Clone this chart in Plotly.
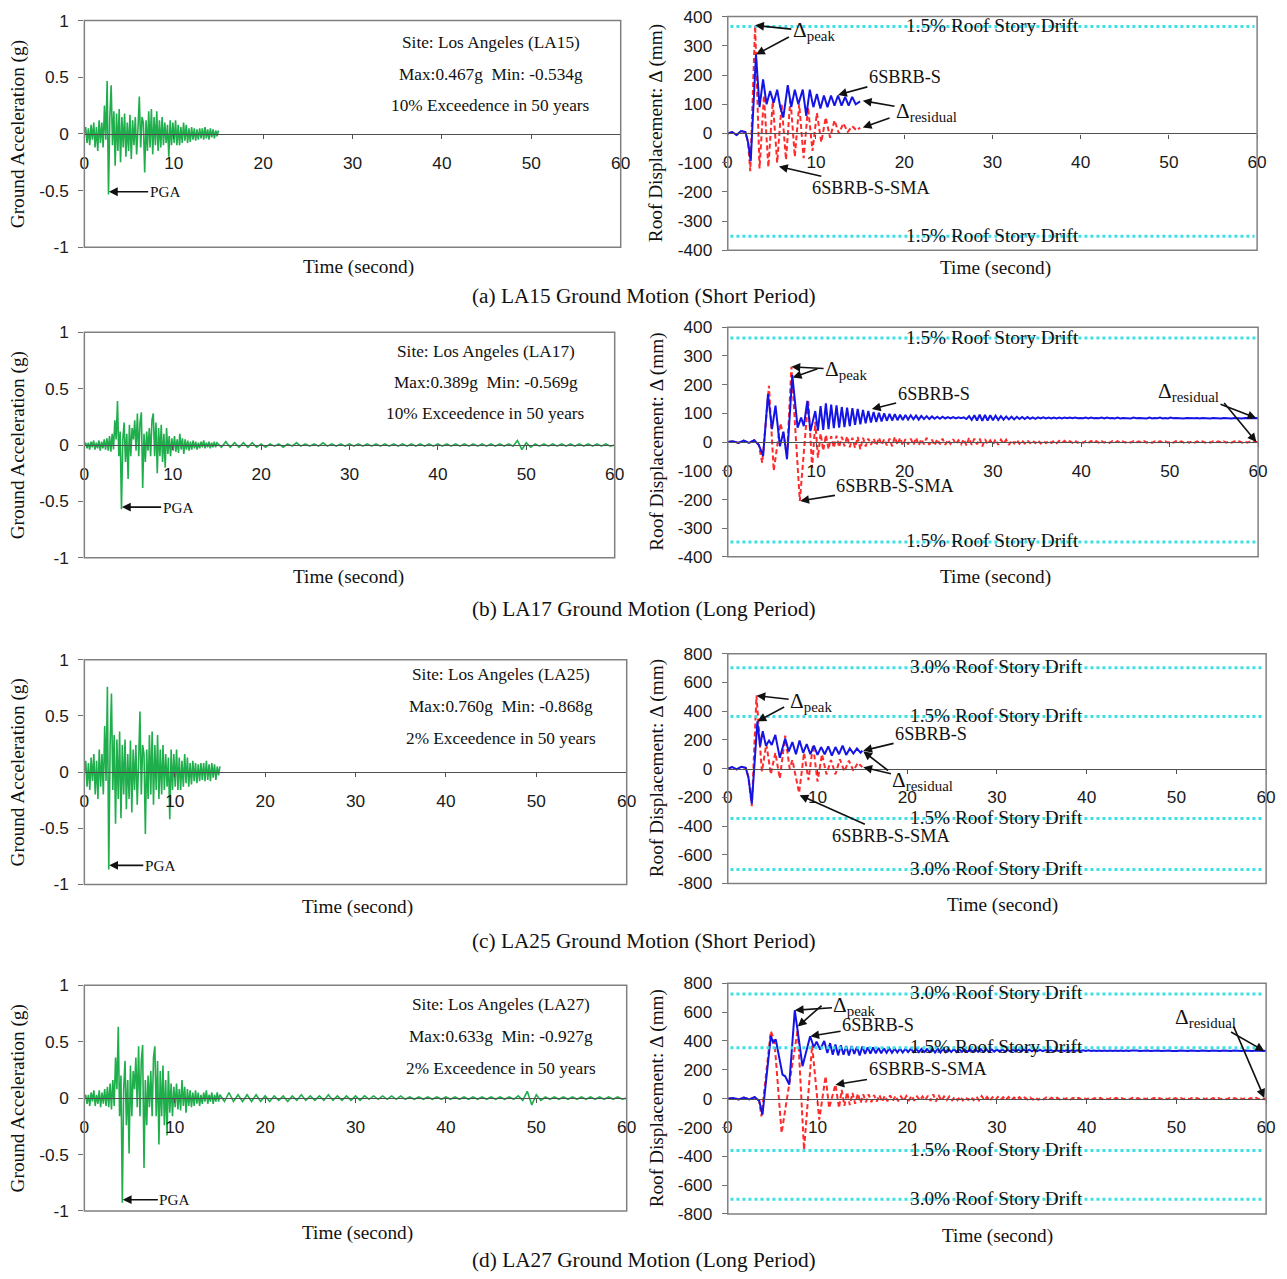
import plotly.graph_objects as go

# Figure size; positions below are given in output-image pixels and converted with the
# measured page offset / scale of the viewer (8 px body margin, ~1.3 % shrink).
W, H = 1287, 1279
OFF, SX, SY = 8, 0.9877, 0.9857
DX, DY = 3.2, -1.5   # measured residual shift of the rendering

# ----------------------------- DATA -----------------------------
# Ground acceleration (g), sampled every ACC_DT s from t = 0
ACC_DT = 0.15
LA15_acc = [0.00, 0.06, -0.08, 0.05, -0.10, 0.08, -0.05, 0.10, -0.12, 0.06,
            -0.15, 0.12, -0.08, 0.10, -0.12, 0.25, -0.05, 0.467, -0.534, 0.15,
            0.43, -0.10, 0.20, -0.28, 0.18, -0.15, 0.22, -0.25, 0.15, -0.12,
            0.18, -0.20, 0.10, -0.15, 0.17, -0.22, 0.12, -0.10, 0.15, -0.18,
            0.05, 0.33, -0.12, 0.15, 0.10, -0.34, 0.12, -0.15, 0.20, -0.12,
            0.22, -0.18, 0.15, -0.10, 0.20, -0.15, 0.12, -0.12, 0.15, -0.10,
            0.10, -0.08, 0.08, -0.20, 0.12, -0.10, 0.10, -0.08, 0.12, -0.10,
            0.08, -0.10, 0.06, -0.08, 0.10, -0.06, 0.08, -0.08, 0.05, -0.07,
            0.06, -0.05, 0.05, -0.06, 0.04, -0.05, 0.05, -0.04, 0.05, -0.05,
            0.06, -0.04, 0.04, -0.05, 0.05, -0.03, 0.04, -0.04, 0.03, -0.02,
            0.03]
LA25_acc = [0.00, 0.10, -0.13, 0.08, -0.16, 0.13, -0.08, 0.16, -0.20, 0.10,
            -0.24, 0.20, -0.13, 0.16, -0.20, 0.41, -0.08, 0.760, -0.868, 0.24,
            0.70, -0.16, 0.33, -0.46, 0.29, -0.24, 0.36, -0.41, 0.24, -0.20,
            0.29, -0.33, 0.16, -0.24, 0.28, -0.36, 0.20, -0.16, 0.24, -0.29,
            0.08, 0.54, -0.20, 0.24, 0.16, -0.55, 0.20, -0.24, 0.33, -0.20,
            0.36, -0.29, 0.24, -0.16, 0.33, -0.24, 0.20, -0.20, 0.24, -0.16,
            0.16, -0.13, 0.13, -0.42, 0.20, -0.16, 0.16, -0.13, 0.20, -0.16,
            0.13, -0.16, 0.10, -0.13, 0.16, -0.10, 0.13, -0.13, 0.08, -0.11,
            0.10, -0.08, 0.08, -0.10, 0.07, -0.08, 0.08, -0.07, 0.08, -0.08,
            0.10, -0.07, 0.07, -0.08, 0.08, -0.05, 0.07, -0.07, 0.05, -0.03,
            0.05]
LA17_acc = [0.00, 0.02, -0.03, 0.02, -0.04, 0.03, -0.02, 0.04, -0.04, 0.02,
            -0.03, 0.04, -0.05, 0.03, -0.03, 0.05, -0.04, 0.06, -0.05, 0.08,
            -0.06, 0.10, -0.04, 0.22, 0.05, 0.389, -0.10, 0.12, -0.569, 0.05,
            0.20, -0.15, 0.10, -0.30, 0.18, -0.10, 0.15, 0.05, 0.22, -0.05,
            0.28, -0.10, 0.20, 0.29, -0.38, 0.10, -0.15, 0.12, -0.05, 0.15,
            -0.10, 0.22, 0.28, -0.10, 0.20, -0.25, 0.15, -0.10, 0.18, -0.15,
            0.10, -0.20, 0.15, -0.08, 0.08, -0.10, 0.06, -0.05, 0.08, -0.06,
            0.05, -0.07, 0.10, -0.04, 0.06, -0.08, 0.05, -0.04, 0.04, -0.05,
            0.03, -0.04, 0.04, -0.03, 0.03, -0.04, 0.02, -0.03, 0.03, -0.02,
            0.04, -0.03, 0.02, -0.02, 0.03, -0.03, 0.02, -0.02, 0.03, -0.02,
            0.02]
LA27_acc = [0.00, 0.03, -0.05, 0.03, -0.07, 0.05, -0.03, 0.07, -0.07, 0.03,
            -0.05, 0.07, -0.08, 0.05, -0.05, 0.08, -0.07, 0.10, -0.08, 0.13,
            -0.10, 0.16, -0.07, 0.36, 0.08, 0.633, -0.16, 0.20, -0.927, 0.08,
            0.33, -0.24, 0.16, -0.49, 0.29, -0.16, 0.24, 0.08, 0.36, -0.08,
            0.46, -0.16, 0.33, 0.47, -0.62, 0.16, -0.24, 0.20, -0.08, 0.24,
            -0.16, 0.36, 0.46, -0.16, 0.33, -0.41, 0.24, -0.16, 0.29, -0.24,
            0.16, -0.33, 0.24, -0.13, 0.13, -0.16, 0.10, -0.08, 0.13, -0.10,
            0.08, -0.11, 0.16, -0.07, 0.10, -0.13, 0.08, -0.07, 0.07, -0.08,
            0.05, -0.07, 0.07, -0.05, 0.05, -0.07, 0.03, -0.05, 0.05, -0.03,
            0.07, -0.05, 0.03, -0.03, 0.05, -0.05, 0.03, -0.03, 0.05, -0.03,
            0.03]
# long-record tails (g), sampled every ACC_TAIL_DT s from ACC_TAIL_T0
ACC_TAIL_T0, ACC_TAIL_DT = 15.5, 0.5
LA17_tail = [-0.02, 0.03, -0.02, 0.02, -0.02, 0.02, -0.02, 0.02, -0.02, 0.01,
             -0.02, 0.01, -0.01, 0.01, -0.02, 0.01, -0.01, 0.02, -0.01, 0.01,
             -0.01, 0.01, -0.01, 0.02, -0.01, 0.01, -0.01, 0.01, -0.01, 0.01,
             -0.01, 0.01, -0.01, 0.01, -0.01, 0.01, -0.01, 0.01, -0.01, 0.01,
             -0.01, 0.01, -0.01, 0.01, -0.01, 0.01, -0.01, 0.01, -0.01, 0.01,
             -0.01, 0.01, -0.01, 0.01, -0.01, 0.01, -0.01, 0.01, -0.01, 0.01,
             -0.01, 0.01, -0.01, 0.01, -0.01, 0.01, -0.01, 0.04, -0.04, 0.02,
             -0.02, 0.01, -0.01, 0.01, -0.01, 0.01, -0.01, 0.01, -0.01, 0.01,
             -0.01, 0.01, -0.01, 0.01, -0.01, 0.01, -0.01, 0.01, -0.01, 0.00]
LA27_tail = [-0.03, 0.05, -0.03, 0.03, -0.03, 0.03, -0.03, 0.03, -0.03, 0.02,
             -0.03, 0.02, -0.02, 0.02, -0.03, 0.02, -0.02, 0.03, -0.02, 0.02,
             -0.02, 0.02, -0.02, 0.03, -0.02, 0.02, -0.02, 0.02, -0.02, 0.02,
             -0.02, 0.02, -0.01, 0.02, -0.01, 0.02, -0.01, 0.02, -0.01, 0.02,
             -0.01, 0.01, -0.01, 0.01, -0.01, 0.01, -0.01, 0.01, -0.01, 0.01,
             -0.01, 0.01, -0.01, 0.01, -0.01, 0.01, -0.01, 0.01, -0.01, 0.01,
             -0.01, 0.01, -0.01, 0.01, -0.01, 0.02, -0.02, 0.06, -0.06, 0.03,
             -0.02, 0.01, -0.01, 0.01, -0.01, 0.01, -0.01, 0.01, -0.01, 0.01,
             -0.01, 0.01, -0.01, 0.01, -0.01, 0.01, -0.01, 0.01, -0.01, 0.00]

# Roof displacement (mm): read turning points (t, value)
LA15_S_t = [0, 0.5, 1.0, 1.5, 2.0, 2.3, 2.6, 3.2, 3.6, 4.0, 4.4, 4.8, 5.2, 5.6, 5.95, 6.3, 6.8, 7.2, 7.6,
            8.0, 8.5, 8.9, 9.3, 9.7, 10.1, 10.5, 10.9, 11.3, 11.7, 12.1, 12.5, 12.9, 13.3, 13.7, 14.1, 14.5, 15.0]
LA15_S_v = [0, 5, -5, 8, 5, -30, -95, 270, 90, 185, 100, 145, 105, 150, 90, 55, 165, 90, 150,
            100, 150, 60, 150, 90, 135, 85, 130, 90, 130, 95, 130, 95, 125, 95, 125, 100, 110]
LA15_SMA_t = [0, 0.5, 1.0, 1.5, 2.0, 2.3, 2.55, 3.1, 3.6, 4.1, 4.6, 5.1, 5.6, 6.1, 6.6, 7.1, 7.6, 8.1,
              8.6, 9.1, 9.6, 10.1, 10.6, 11.1, 11.6, 12.1, 12.6, 13.1, 13.6, 14.1, 14.6, 15.0]
LA15_SMA_v = [0, 5, -5, 8, 5, -30, -129, 370, -120, 130, -115, 110, -100, 100, -90, 120, -80, 100,
              -85, 90, -60, 70, -30, 55, -15, 45, 0, 35, 5, 25, 10, 20]

LA25_S_t = [0, 0.5, 1.0, 1.5, 2.0, 2.3, 2.68, 3.3, 3.6, 3.9, 4.25, 4.6, 4.9, 5.3, 5.8, 6.4, 6.8, 7.2, 7.6,
            8.0, 8.4, 8.8, 9.2, 9.6, 10.0, 10.4, 10.8, 11.2, 11.6, 12.0, 12.4, 12.8, 13.2, 13.6, 14.0, 14.4, 14.8, 15.0]
LA25_S_v = [0, 10, -5, 12, 5, -60, -245, 329, 155, 260, 160, 195, 165, 235, 75, 210, 120, 185, 100,
            195, 110, 170, 100, 160, 95, 150, 100, 155, 90, 150, 100, 160, 95, 140, 105, 140, 110, 125]
LA25_SMA_t = [0, 0.5, 1.0, 1.5, 2.0, 2.3, 2.68, 3.2, 3.8, 4.3, 4.8, 5.3, 5.8, 6.4, 6.9, 7.2, 7.95, 8.5,
              9.0, 9.5, 10.0, 10.5, 11.0, 11.5, 12.0, 12.5, 13.0, 13.5, 14.0, 14.5, 15.0]
LA25_SMA_v = [0, 10, -5, 12, 5, -60, -262, 508, -20, 170, -40, 110, -70, 230, 0, 60, -170, 110,
              -80, 165, -90, 100, -40, 60, -40, 65, -20, 55, -15, 40, 10]

# long records: turning points, then a tail sampled every RESP_TAIL_DT s
RESP_TAIL_DT = 0.3
LA17_S_t = [0, 0.6, 1.2, 1.8, 2.4, 3.0, 3.5, 4.0, 4.55, 5.0, 5.4, 5.9, 6.3, 6.7, 7.3, 7.9, 8.3, 8.6, 9.0, 9.35, 9.9]
LA17_S_v = [0, 3, -3, 5, -3, 6, -10, -48, 167, 45, 127, -15, 36, -60, 233, 50, 85, 55, 143, 38, 108]
LA17_S_tail_t0 = 10.2
LA17_S_tail = [40, 125, 42, 135, 45, 130, 48, 128, 50, 122, 52,
               120, 55, 118, 60, 115, 62, 112, 65, 108, 68,
               105, 70, 102, 72, 100, 74, 98, 75, 97, 76,
               95, 77, 94, 78, 93, 79, 92, 78, 91, 80,
               90, 80, 89, 81, 88, 81, 88, 82, 87, 82,
               87, 82, 86, 83, 86, 80, 90, 77, 93, 75,
               95, 74, 94, 75, 93, 76, 92, 77, 90, 78,
               89, 79, 88, 79, 88, 80, 87, 80, 87, 81,
               86, 81, 86, 82, 86, 82, 85, 82, 85, 82,
               85, 82, 85, 83, 85, 83, 85, 83, 84, 83,
               85, 82, 85, 83, 84, 83, 85, 82, 85, 83,
               84, 82, 85, 82, 84, 83, 84, 82, 85, 83,
               84, 83, 84, 82, 85, 82, 84, 83, 85, 82,
               84, 82, 85, 83, 84, 83, 84, 82, 84, 83,
               84, 83, 84, 82, 84, 83, 84, 82, 84, 83,
               84, 82, 84, 83, 84, 82, 84, 83, 84, 82,
               84, 83, 84, 83, 84, 83]
LA17_SMA_t = [0, 0.6, 1.2, 1.8, 2.4, 3.0, 3.5, 3.9, 4.66, 5.2, 5.95, 6.35, 6.7, 7.2, 8.15, 9.1, 9.55, 9.9]
LA17_SMA_v = [0, 3, -3, 5, -3, 6, -10, -72, 196, -100, 65, 20, -50, 262, -205, 148, -90, 70]
LA17_SMA_tail_t0 = 10.2
LA17_SMA_tail = [-55, 30, -30, 25, -25, 20, -20, 22, -18, 18, -15,
                 20, -18, 15, -20, 18, -25, 15, -15, 12, -10,
                 12, -12, 15, -10, 10, -12, 12, -15, 18, -10,
                 15, -12, 10, -8, 12, -10, 15, -12, 10, -8,
                 15, -10, 8, -12, 10, -8, 12, -10, 8, -6,
                 10, -8, 6, -8, 10, -12, 15, -10, 12, -8,
                 12, -15, 10, -8, 6, -8, 10, -10, 8, -6,
                 8, -10, 6, -5, 8, -6, 5, -5, 6, -4,
                 5, -4, 6, -5, 4, -4, 5, -3, 4, -4,
                 4, -3, 4, -4, 3, -3, 4, -3, 3, -3,
                 3, -3, 4, -3, 3, -3, 3, -2, 3, -3,
                 3, -2, 3, -3, 2, -2, 3, -2, 3, -2,
                 2, -2, 3, -2, 2, -3, 2, -2, 3, -2,
                 2, -2, 2, -2, 3, -2, 2, -2, 2, -2,
                 2, -2, 2, -2, 2, -2, 2, -2, 2, -2,
                 2, -2, 2, -2, 2, -2, 2, -2, 2, -2,
                 2, -2, 2, -1, 1, -1]

LA27_S_t = [0, 0.6, 1.2, 1.8, 2.4, 3.0, 3.5, 3.87, 4.8, 5.05, 5.35, 6.1, 6.4, 6.85, 7.47, 8.33, 9.18,
            9.6, 9.9, 10.3, 10.75, 11.1]
LA27_S_v = [0, 5, -5, 8, -5, 10, -15, -111, 435, 390, 410, 167, 155, 97, 613, 225, 433,
            355, 395, 340, 400, 317]
LA27_S_tail_t0 = 11.4
LA27_S_tail = [385, 305, 375, 300, 370, 305, 365, 300, 365, 310,
               360, 300, 362, 310, 355, 312, 355, 315, 352, 315,
               350, 318, 350, 318, 348, 320, 348, 320, 346, 322,
               346, 322, 345, 322, 345, 323, 344, 323, 346, 320,
               348, 320, 346, 322, 345, 323, 344, 324, 344, 324,
               343, 324, 343, 325, 342, 325, 343, 324, 344, 324,
               342, 326, 341, 326, 341, 327, 340, 327, 340, 327,
               340, 328, 339, 328, 339, 328, 339, 329, 338, 329,
               337, 329, 337, 329, 336, 330, 336, 330, 336, 330,
               335, 330, 335, 330, 335, 331, 335, 331, 334, 331,
               334, 331, 334, 331, 334, 331, 334, 331, 334, 331,
               334, 331, 334, 331, 333, 331, 333, 331, 333, 331,
               333, 331, 333, 331, 333, 330, 334, 330, 333, 331,
               333, 331, 333, 331, 333, 331, 333, 331, 333, 331,
               333, 331, 333, 331, 333, 331, 333, 331, 333, 331,
               333, 331, 333, 331, 333, 331, 333, 331, 333, 331,
               332, 331, 332]
LA27_SMA_t = [0, 0.6, 1.2, 1.8, 2.4, 3.0, 3.5, 3.75, 4.8, 5.2, 6.0, 7.8, 8.5, 9.4, 10.2, 10.9, 11.3, 12.0, 12.4]
LA27_SMA_v = [0, 5, -5, 8, -5, 10, -15, -123, 468, 400, -238, 480, -354, 370, -146, 155, -65, 97, -65]
LA27_SMA_tail_t0 = 12.7
LA27_SMA_tail = [60, -50, 45, -45, 40, -35, 35, -30, 30, -25,
                 30, -25, 25, -20, 25, -22, 20, -18, 22, -15,
                 20, -18, 15, -15, 18, -12, 20, -15, 15, -12,
                 15, -12, 20, -15, 30, -20, 25, -15, 15, -10,
                 15, -12, 12, -10, 15, -12, 10, -8, 12, -10,
                 15, -12, 18, -10, 12, -15, 10, -10, 12, -8,
                 10, -8, 12, -10, 8, -6, 10, -8, 8, -6,
                 8, -6, 10, -8, 6, -5, 8, -6, 6, -5,
                 6, -5, 5, -4, 6, -5, 5, -4, 5, -4,
                 5, -4, 5, -4, 4, -3, 5, -4, 4, -3,
                 4, -3, 5, -4, 4, -3, 4, -3, 5, -3,
                 4, -3, 4, -3, 4, -3, 5, -4, 4, -3,
                 5, -4, 4, -3, 4, -3, 4, -3, 4, -3,
                 4, -3, 4, -3, 4, -3, 4, -3, 4, -3,
                 4, -3, 4, -3, 4, -3, 4, -3, 4, -3,
                 4, -3, 4, -3, 5, -3, 5, -3, 5, -3]

# drift limit lines (mm) and their labels
DRIFT_A = [366, -352]
DRIFT_B = [362, -348]
DRIFT_C = [703, 362, -348, -703]
DRIFT_D = [726, 353, -360, -698]
DRIFT_LABELS_2 = ["1.5% Roof Story Drift", "1.5% Roof Story Drift"]
DRIFT_LABELS_4 = ["3.0% Roof Story Drift", "1.5% Roof Story Drift",
                  "1.5% Roof Story Drift", "3.0% Roof Story Drift"]

X_TICKS = [0, 10, 20, 30, 40, 50, 60]
ACC_TICKS = [-1, -0.5, 0, 0.5, 1]
ACC_TICKTEXT = ["-1", "-0.5", "0", "0.5", "1"]
DISP_TICKS_400 = [-400, -300, -200, -100, 0, 100, 200, 300, 400]
DISP_TICKS_800 = [-800, -600, -400, -200, 0, 200, 400, 600, 800]

INFO = {
    1: ["Site: Los Angeles (LA15)", "Max:0.467g\u00a0 Min: -0.534g", "10% Exceedence in 50 years"],
    3: ["Site: Los Angeles (LA17)", "Max:0.389g\u00a0 Min: -0.569g", "10% Exceedence in 50 years"],
    5: ["Site: Los Angeles (LA25)", "Max:0.760g\u00a0 Min: -0.868g", "2% Exceedence in 50 years"],
    7: ["Site: Los Angeles (LA27)", "Max:0.633g\u00a0 Min: -0.927g", "2% Exceedence in 50 years"],
}
CAPTIONS = ["(a) LA15 Ground Motion (Short Period)", "(b) LA17 Ground Motion (Long Period)",
            "(c) LA25 Ground Motion (Short Period)", "(d) LA27 Ground Motion (Long Period)"]

# ----------------------------- STYLE / LAYOUT -----------------------------
SANS = "Liberation Sans, Arial, sans-serif"
SERIF = "Liberation Serif, Times New Roman, serif"
GREEN, BLUE, RED, CYAN = "#1fae4c", "#1414e6", "#ff2a2a", "#3ee0e6"


def fs(size):
    return round(size / SY, 2)


TICKFONT = dict(family=SANS, size=fs(17), color="#1a1a1a")

# panel geometry in output pixels: left, right, top, bottom
PANELS = [
    dict(x0=84, x1=620, yt=20, yb=247, kind="acc"),
    dict(x0=727, x1=1256, yt=16, yb=250, kind="disp", lim=400),
    dict(x0=84, x1=614, yt=332, yb=558, kind="acc"),
    dict(x0=727, x1=1257, yt=327, yb=557, kind="disp", lim=400),
    dict(x0=84, x1=626, yt=660, yb=885, kind="acc"),
    dict(x0=727, x1=1265, yt=654, yb=884, kind="disp", lim=800),
    dict(x0=84, x1=626, yt=986, yb=1212, kind="acc"),
    dict(x0=727, x1=1265, yt=984, yb=1215, kind="disp", lim=800),
]
TIME_TITLE_XY = [(358, 267), (995, 268), (348, 577), (995, 577), (357, 908), (1002, 906), (357, 1234), (997, 1237)]
CAPTION_Y = [296, 609, 942, 1261]
INFO_XY = {1: (490, [42, 74, 105]), 3: (485, [351, 382, 413]), 5: (500, [675, 707, 739]), 7: (500, [1005, 1037, 1069])}


def fx(px):
    return ((px + DX) / SX - OFF) / W


def fy(py):
    return 1 - ((py + DY) / SY - OFF) / H


def ax_ids(i):
    return ("x" if i == 1 else f"x{i}"), ("y" if i == 1 else f"y{i}")


def grid(t0, dt, n):
    return [round(t0 + k * dt, 4) for k in range(n)]


def paper_text(px, py, text, size, angle=0):
    return dict(xref="paper", yref="paper", x=fx(px), y=fy(py), xanchor="center", yanchor="middle",
                text=text, textangle=angle, showarrow=False,
                font=dict(family=SERIF, size=fs(size), color="#111"))


fig = go.Figure()
layout = dict(width=W, height=H, margin=dict(l=0, r=0, t=0, b=0), paper_bgcolor="white",
              plot_bgcolor="white", showlegend=False)
shapes, annotations = [], []

for i, p in enumerate(PANELS, start=1):
    xid, yid = ax_ids(i)
    xkey = "xaxis" if i == 1 else f"xaxis{i}"
    ykey = "yaxis" if i == 1 else f"yaxis{i}"
    zero_paper = fy((p["yt"] + p["yb"]) / 2)
    layout[xkey] = dict(domain=[fx(p["x0"]), fx(p["x1"])], range=[0, 60], anchor="free", position=zero_paper,
                        showline=True, linecolor="#505050", linewidth=1.2, ticks="outside", ticklen=4,
                        tickcolor="#505050", tickvals=X_TICKS, ticktext=[str(v) for v in X_TICKS],
                        tickfont=TICKFONT, ticklabelstandoff=9, showgrid=False, zeroline=False)
    if p["kind"] == "acc":
        yr, tv, tt = [-1, 1], ACC_TICKS, ACC_TICKTEXT
    else:
        yr = [-p["lim"], p["lim"]]
        tv = DISP_TICKS_400 if p["lim"] == 400 else DISP_TICKS_800
        tt = [str(v) for v in tv]
    layout[ykey] = dict(domain=[fy(p["yb"]), fy(p["yt"])], range=yr, anchor=xid, ticks="outside",
                        ticklen=5, tickcolor="#707070", tickvals=tv, ticktext=tt, tickfont=TICKFONT,
                        ticklabelstandoff=6, showgrid=False, zeroline=False, showline=False)
    shapes.append(dict(type="rect", xref=f"{xid} domain", yref=f"{yid} domain", x0=0, x1=1, y0=0, y1=1,
                       line=dict(color="#808080", width=1.5), fillcolor="rgba(0,0,0,0)", layer="above"))
    tx, ty = TIME_TITLE_XY[i - 1]
    annotations.append(paper_text(tx, ty, "Time (second)", 19))
    ytitle = "Ground Acceleration (g)" if p["kind"] == "acc" else "Roof Displacement: \u0394 (mm)"
    ytx = 18 if p["kind"] == "acc" else 656
    annotations.append(paper_text(ytx, (p["yt"] + p["yb"]) / 2, ytitle, 19, -90))

# --- acceleration traces
ACC_SERIES = {1: (LA15_acc, None), 3: (LA17_acc, LA17_tail), 5: (LA25_acc, None), 7: (LA27_acc, LA27_tail)}
for i, (acc, tail) in ACC_SERIES.items():
    xid, yid = ax_ids(i)
    t = grid(0, ACC_DT, len(acc))
    v = list(acc)
    if tail:
        t += grid(ACC_TAIL_T0, ACC_TAIL_DT, len(tail))
        v += tail
    fig.add_trace(go.Scatter(x=t, y=v, xaxis=xid, yaxis=yid, mode="lines",
                             line=dict(color=GREEN, width=1.6), hoverinfo="skip"))

# --- displacement traces
DISP_SERIES = {
    2: [(LA15_SMA_t, LA15_SMA_v, None, None, "SMA"), (LA15_S_t, LA15_S_v, None, None, "S")],
    4: [(LA17_SMA_t, LA17_SMA_v, LA17_SMA_tail_t0, LA17_SMA_tail, "SMA"),
        (LA17_S_t, LA17_S_v, LA17_S_tail_t0, LA17_S_tail, "S")],
    6: [(LA25_SMA_t, LA25_SMA_v, None, None, "SMA"), (LA25_S_t, LA25_S_v, None, None, "S")],
    8: [(LA27_SMA_t, LA27_SMA_v, LA27_SMA_tail_t0, LA27_SMA_tail, "SMA"),
        (LA27_S_t, LA27_S_v, LA27_S_tail_t0, LA27_S_tail, "S")],
}
for i, series in DISP_SERIES.items():
    xid, yid = ax_ids(i)
    for bt, bv, t0, tail, kind in series:
        t, v = list(bt), list(bv)
        if tail:
            t += grid(t0, RESP_TAIL_DT, len(tail))
            v += tail
        line = dict(color=BLUE, width=2) if kind == "S" else dict(color=RED, width=2, dash="5px,3px")
        fig.add_trace(go.Scatter(x=t, y=v, xaxis=xid, yaxis=yid, mode="lines", line=line, hoverinfo="skip"))

# --- drift lines + labels
DRIFTS = {2: (DRIFT_A, DRIFT_LABELS_2), 4: (DRIFT_B, DRIFT_LABELS_2),
          6: (DRIFT_C, DRIFT_LABELS_4), 8: (DRIFT_D, DRIFT_LABELS_4)}
for i, (vals, labels) in DRIFTS.items():
    xid, yid = ax_ids(i)
    for val, lab in zip(vals, labels):
        shapes.append(dict(type="line", xref=f"{xid} domain", yref=yid, x0=0.005, x1=0.995, y0=val, y1=val,
                           line=dict(color=CYAN, width=3, dash="dot"), layer="above"))
        annotations.append(dict(xref=xid, yref=yid, x=30, y=val, text=lab, showarrow=False, yshift=1,
                                xanchor="center", yanchor="middle",
                                font=dict(family=SERIF, size=fs(19), color="#111")))

# --- info text
for i, lines in INFO.items():
    cx, ys = INFO_XY[i]
    for ln, yy in zip(lines, ys):
        annotations.append(paper_text(cx, yy, ln, 17))

# --- captions
for cap, cy in zip(CAPTIONS, CAPTION_Y):
    annotations.append(paper_text(643, cy, cap, 21))


def arrow(i, x, y, ax, ay, text="", size=18):
    xid, yid = ax_ids(i)
    return dict(xref=xid, yref=yid, x=x, y=y, ax=round(ax / SX, 1), ay=round(ay / SY, 1),
                axref="pixel", ayref="pixel", text=text,
                showarrow=True, arrowhead=2, arrowsize=1.1, arrowwidth=1.6, arrowcolor="#111",
                font=dict(family=SERIF, size=fs(size), color="#111"))


DPEAK = "\u0394<sub>peak</sub>"
DRES = "\u0394<sub>residual</sub>"
annotations += [
    # PGA markers
    arrow(1, 2.75, -0.51, 55, 0, "PGA", 15),
    arrow(3, 4.25, -0.55, 55, 0, "PGA", 15),
    arrow(5, 2.75, -0.83, 50, 0, "PGA", 15),
    arrow(7, 4.25, -0.90, 51, 0, "PGA", 15),
    # (a)
    arrow(2, 3.1, 370, 58, 6, DPEAK, 21), arrow(2, 3.2, 270, 34, -18),
    arrow(2, 12.5, 132, 66, -18, "6SBRB-S"),
    arrow(2, 15.3, 112, 63, 11, DRES, 21), arrow(2, 15.3, 20, 28, -10),
    arrow(2, 5.8, -113, 91, 21, "6SBRB-S-SMA"),
    # (b)
    arrow(4, 7.2, 262, 54, 3, DPEAK, 21), arrow(4, 7.35, 225, 26, -9),
    arrow(4, 16.3, 115, 61, -15, "6SBRB-S"),
    arrow(4, 59.8, 83, -67, -26, DRES, 21), arrow(4, 59.8, 0, -33, -40),
    arrow(4, 8.2, -205, 94, -15, "6SBRB-S-SMA"),
    # (c)
    arrow(6, 3.2, 508, 54, 6, DPEAK, 21), arrow(6, 3.3, 329, 28, -15),
    arrow(6, 15.1, 125, 67, -16, "6SBRB-S"),
    arrow(6, 15.1, 10, 59, 14, DRES, 21), arrow(6, 15.1, 120, 26, 20),
    arrow(6, 8.0, -185, 90, 40, "6SBRB-S-SMA"),
    # (d)
    arrow(8, 7.47, 613, 59, -4, DPEAK, 21), arrow(8, 7.8, 500, 25, -22),
    arrow(8, 9.2, 433, 67, -11, "6SBRB-S"),
    arrow(8, 59.8, 330, -58, -33, DRES, 21), arrow(8, 59.8, 5, -31, -72),
    arrow(8, 12.0, 97, 91, -15, "6SBRB-S-SMA"),
]

layout["shapes"] = shapes
layout["annotations"] = annotations
fig.update_layout(**layout)
fig.write_html("out.html")
